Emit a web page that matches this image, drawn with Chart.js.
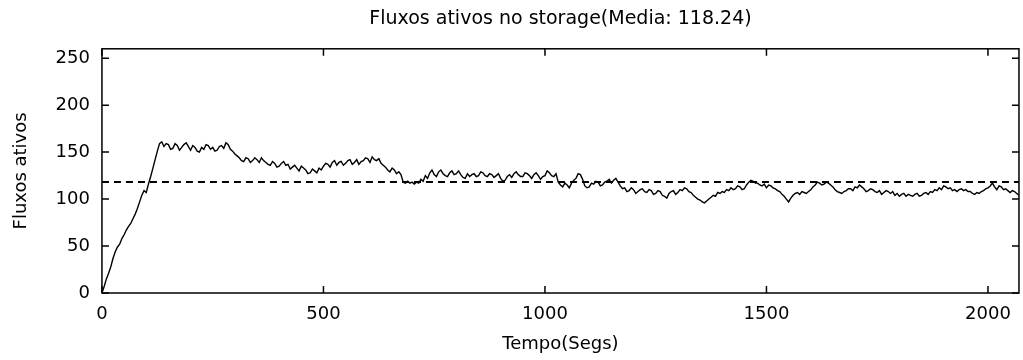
<!DOCTYPE html>
<html>
<head>
<meta charset="utf-8">
<script src="https://cdn.jsdelivr.net/npm/chart.js@4/dist/chart.umd.min.js"></script>
<style>
html,body{margin:0;padding:0;background:#fff;}
#wrap{width:1023px;height:360px;position:relative;}
</style>
</head>
<body>
<div id="wrap"><canvas id="c"></canvas></div>
<script>
const chartTitle = "Fluxos ativos no storage(Media: 118.24)";
const xTitle = "Tempo(Segs)";
const yTitle = "Fluxos ativos";
const mediaValue = 118.24;
const xTicks = [0, 500, 1000, 1500, 2000];
const yTicks = [0, 50, 100, 150, 200, 250];
const xMax = 2070;
const yMax = 260;

const times = [
  0,5,10,15,20,25,30,35,40,45,50,55,60,65,70,75,80,85,90,95,
  100,105,110,115,120,125,130,135,140,145,150,155,160,165,170,175,180,185,190,195,
  200,205,210,215,220,225,230,235,240,245,250,255,260,265,270,275,280,285,290,295,
  300,305,310,315,320,325,330,335,340,345,350,355,360,365,370,375,380,385,390,395,
  400,405,410,415,420,425,430,435,440,445,450,455,460,465,470,475,480,485,490,495,
  500,505,510,515,520,525,530,535,540,545,550,555,560,565,570,575,580,585,590,595,
  600,605,610,615,620,625,630,635,640,645,650,655,660,665,670,675,680,685,690,695,
  700,705,710,715,720,725,730,735,740,745,750,755,760,765,770,775,780,785,790,795,
  800,805,810,815,820,825,830,835,840,845,850,855,860,865,870,875,880,885,890,895,
  900,905,910,915,920,925,930,935,940,945,950,955,960,965,970,975,980,985,990,995,
  1000,1005,1010,1015,1020,1025,1030,1035,1040,1045,1050,1055,1060,1065,1070,1075,1080,1085,1090,1095,
  1100,1105,1110,1115,1120,1125,1130,1135,1140,1145,1150,1155,1160,1165,1170,1175,1180,1185,1190,1195,
  1200,1205,1210,1215,1220,1225,1230,1235,1240,1245,1250,1255,1260,1265,1270,1275,1280,1285,1290,1295,
  1300,1305,1310,1315,1320,1325,1330,1335,1340,1345,1350,1355,1360,1365,1370,1375,1380,1385,1390,1395,
  1400,1405,1410,1415,1420,1425,1430,1435,1440,1445,1450,1455,1460,1465,1470,1475,1480,1485,1490,1495,
  1500,1505,1510,1515,1520,1525,1530,1535,1540,1545,1550,1555,1560,1565,1570,1575,1580,1585,1590,1595,
  1600,1605,1610,1615,1620,1625,1630,1635,1640,1645,1650,1655,1660,1665,1670,1675,1680,1685,1690,1695,
  1700,1705,1710,1715,1720,1725,1730,1735,1740,1745,1750,1755,1760,1765,1770,1775,1780,1785,1790,1795,
  1800,1805,1810,1815,1820,1825,1830,1835,1840,1845,1850,1855,1860,1865,1870,1875,1880,1885,1890,1895,
  1900,1905,1910,1915,1920,1925,1930,1935,1940,1945,1950,1955,1960,1965,1970,1975,1980,1985,1990,1995,
  2000,2005,2010,2015,2020,2025,2030,2035,2040,2045,2050,2055,2060,2065,2070
];
const fluxos = [
  0,7,15,21,28,37,44,49,52,58,62,67,71,74,79,84,90,97,104,109,
  107,116,124,133,142,151,159,161,156,159,158,153,154,159,157,152,155,158,160,156,
  152,157,155,151,150,155,153,158,157,153,155,151,152,156,157,154,160,158,153,151,
  148,146,144,141,140,144,143,139,141,144,142,139,144,141,139,137,136,140,138,134,
  135,138,140,136,137,132,134,136,133,130,135,133,131,127,128,132,130,128,133,131,
  135,138,137,134,139,141,136,139,140,136,138,141,142,137,139,142,137,140,141,144,
  143,139,145,142,141,143,138,136,134,131,129,133,131,127,129,126,118,117,119,117,
  118,116,118,117,121,119,125,122,128,131,126,124,129,131,127,125,124,128,130,126,
  127,130,126,123,122,127,124,126,127,124,125,129,128,125,124,127,126,123,125,127,
  122,119,120,124,126,123,127,129,126,124,124,128,127,125,122,126,128,125,121,124,
  125,130,128,125,124,127,118,115,113,117,115,112,117,120,122,127,126,121,114,112,
  113,117,116,119,118,114,115,118,119,121,117,120,122,118,114,111,112,108,109,112,
  110,106,108,110,111,108,107,110,109,105,106,109,108,104,103,101,106,108,109,105,
  107,110,109,112,111,108,107,104,102,100,99,97,96,98,100,102,104,103,107,106,
  108,107,110,109,112,110,111,114,113,110,111,115,118,120,119,117,117,115,114,116,
  112,115,114,112,111,109,108,105,103,100,97,101,104,106,107,105,108,107,106,108,
  110,113,115,118,117,115,116,118,117,115,113,110,108,107,106,108,109,111,111,109,
  113,112,115,113,111,108,109,111,110,108,107,109,105,107,109,108,106,108,104,106,
  103,105,106,103,105,104,103,105,106,103,104,106,107,105,108,107,110,109,112,110,
  114,113,111,112,109,110,108,110,111,109,110,108,108,106,105,107,106,108,109,111,
  112,114,117,113,110,114,113,110,111,109,107,109,108,106,104
];

const framePlugin = {
  id: 'frame',
  afterDatasetsDraw(chart) {
    const {ctx, chartArea, scales} = chart;
    const {left, right, top, bottom} = chartArea;
    const x = scales.x, y = scales.y;
    const L = 7;
    ctx.save();
    ctx.strokeStyle = '#000';
    ctx.lineWidth = 1.5;
    ctx.strokeRect(left, top, right - left, bottom - top);
    ctx.beginPath();
    x.ticks.forEach(t => {
      const px = x.getPixelForValue(t.value);
      ctx.moveTo(px, bottom); ctx.lineTo(px, bottom - L);
      ctx.moveTo(px, top); ctx.lineTo(px, top + L);
    });
    y.ticks.forEach(t => {
      const py = y.getPixelForValue(t.value);
      ctx.moveTo(left, py); ctx.lineTo(left + L, py);
      ctx.moveTo(right, py); ctx.lineTo(right - L, py);
    });
    ctx.stroke();
    ctx.restore();
  }
};

const FONT = "'DejaVu Sans', sans-serif";

new Chart(document.getElementById('c'), {
  type: 'line',
  data: {
    datasets: [
      {
        data: times.map((t, i) => ({x: t, y: fluxos[i]})),
        borderColor: '#000',
        borderWidth: 1.4,
        pointRadius: 0,
        tension: 0,
        fill: false,
        xAxisID: 'x',
        yAxisID: 'y'
      },
      {
        data: [{x: 0, y: mediaValue}, {x: xMax, y: mediaValue}],
        borderColor: '#000',
        borderWidth: 2,
        borderDash: [7, 5],
        pointRadius: 0,
        fill: false,
        xAxisID: 'x',
        yAxisID: 'y'
      }
    ]
  },
  options: {
    responsive: true,
    maintainAspectRatio: false,
    animation: false,
    layout: {padding: {left: 11, right: 2, top: 8, bottom: 3}},
    plugins: {
      legend: {display: false},
      tooltip: {enabled: false},
      title: {display: false}
    },
    scales: {
      x: {
        type: 'linear',
        position: 'bottom',
        min: 0,
        max: xMax,
        afterBuildTicks: s => { s.ticks = xTicks.map(v => ({value: v})); },
        ticks: {color: '#000', font: {family: FONT, size: 18, lineHeight: 1}, padding: 12, maxRotation: 0,
                callback: v => String(v)},
        grid: {display: false, drawTicks: false},
        border: {display: false},
        title: {display: true, text: xTitle, color: '#000', font: {family: FONT, size: 18, lineHeight: 1}, padding: {top: 0, bottom: 4}}
      },
      xTop: {
        type: 'linear',
        position: 'top',
        display: true,
        min: 0,
        max: xMax,
        ticks: {display: false},
        grid: {display: false, drawTicks: false},
        border: {display: false},
        title: {display: true, text: chartTitle, color: '#000', font: {family: FONT, size: 19}, padding: {top: 0, bottom: 18}}
      },
      y: {
        type: 'linear',
        position: 'left',
        min: 0,
        max: yMax,
        afterBuildTicks: s => { s.ticks = yTicks.map(v => ({value: v})); },
        ticks: {color: '#000', font: {family: FONT, size: 18}, padding: 12,
                callback: v => String(v)},
        grid: {display: false, drawTicks: false},
        border: {display: false},
        title: {display: true, text: yTitle, color: '#000', font: {family: FONT, size: 18}, padding: {top: 0, bottom: 11}}
      }
    }
  },
  plugins: [framePlugin]
});
</script>
</body>
</html>
